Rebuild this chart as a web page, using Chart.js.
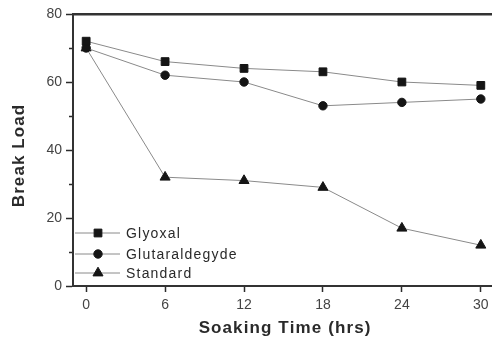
<!DOCTYPE html>
<html>
<head>
<meta charset="utf-8">
<script src="https://cdn.jsdelivr.net/npm/chart.js@4/dist/chart.umd.min.js"></script>
<style>
  html, body { margin: 0; padding: 0; background: #ffffff; }
</style>
</head>
<body>
<canvas id="c" width="492" height="341"></canvas>
<script>
// ---- data ----
const soakingHours = [0, 6, 12, 18, 24, 30];
const glyoxal = [72, 66, 64, 63, 60, 59];
const glutaraldegyde = [70, 62, 60, 53, 54, 55];
const standard = [70, 32, 31, 29, 17, 12];
const seriesNames = ['Glyoxal', 'Glutaraldegyde', 'Standard'];
const xTickValues = [0, 6, 12, 18, 24, 30];
const yTickValues = [0, 10, 20, 30, 40, 50, 60, 70, 80];
const yLabelStep = 20;
const xTitle = 'Soaking Time (hrs)';
const yTitle = 'Break Load';

const toPts = (arr) => arr.map((v, i) => ({ x: soakingHours[i], y: v }));

const axisColor = '#333333';
const tickCol = '#2b2b2b';
const lineColor = '#8a8a8a';
const markColor = '#151515';
const FONT = 'Arial, "Liberation Sans", Helvetica, sans-serif';

// draw text with manual letter spacing (canvas text, centered or left aligned)
function spacedText(ctx, str, x, y, spacing, align) {
  const chars = Array.from(str);
  const widths = chars.map(ch => ctx.measureText(ch).width);
  const total = widths.reduce((s, w) => s + w, 0) + spacing * (chars.length - 1);
  let cx = align === 'center' ? x - total / 2 : x;
  ctx.textAlign = 'left';
  chars.forEach((ch, i) => { ctx.fillText(ch, cx, y); cx += widths[i] + spacing; });
}

const decorPlugin = {
  id: 'decor',
  afterDraw(chart) {
    const ctx = chart.ctx;
    const a = chart.chartArea;
    // top frame line
    ctx.save();
    ctx.strokeStyle = axisColor;
    ctx.lineWidth = 2;
    ctx.beginPath(); ctx.moveTo(a.left, a.top + 0.5); ctx.lineTo(chart.width, a.top + 0.5); ctx.stroke();
    ctx.restore();

    // axis titles
    ctx.save();
    ctx.fillStyle = '#2a2a2a';
    ctx.font = 'bold 17px ' + FONT;
    ctx.textBaseline = 'middle';
    spacedText(ctx, xTitle, (a.left + a.right) / 2 + 2, 328, 1.1, 'center');
    ctx.translate(19, (a.top + a.bottom) / 2 + 6);
    ctx.rotate(-Math.PI / 2);
    spacedText(ctx, yTitle, 0, 0, 1.1, 'center');
    ctx.restore();

    // legend inside plot
    ctx.save();
    const rows = [a.bottom - 53, a.bottom - 32, a.bottom - 13];
    chart.data.datasets.forEach((ds, i) => {
      const y = rows[i];
      const x0 = a.left + 2, x1 = a.left + 47, xm = a.left + 25;
      ctx.strokeStyle = lineColor;
      ctx.lineWidth = 1;
      ctx.beginPath(); ctx.moveTo(x0, y); ctx.lineTo(x1, y); ctx.stroke();
      ctx.fillStyle = markColor;
      ctx.strokeStyle = markColor;
      Chart.helpers.drawPoint(ctx, {
        pointStyle: ds.pointStyle, radius: ds.pointRadius, borderWidth: 1, rotation: 0
      }, xm, y);
      ctx.fillStyle = '#2a2a2a';
      ctx.font = '14px ' + FONT;
      ctx.textBaseline = 'middle';
      spacedText(ctx, ds.label, a.left + 53, y + 1, 1.2, 'left');
    });
    ctx.restore();
  }
};

const mkDs = (label, data, style, r) => ({
  label, data: toPts(data),
  borderColor: lineColor, borderWidth: 1,
  pointStyle: style, pointRadius: r, pointHoverRadius: r,
  pointBackgroundColor: markColor, pointBorderColor: markColor, pointBorderWidth: 1,
  tension: 0, fill: false, clip: false
});

new Chart(document.getElementById('c'), {
  type: 'line',
  data: {
    datasets: [
      mkDs(seriesNames[0], glyoxal, 'rect', 5.5),
      mkDs(seriesNames[1], glutaraldegyde, 'circle', 4.2),
      mkDs(seriesNames[2], standard, 'triangle', 5.8)
    ]
  },
  options: {
    responsive: false,
    animation: false,
    devicePixelRatio: 1,
    layout: { autoPadding: false, padding: { top: 14, right: 0, left: 0, bottom: 0 } },
    plugins: { legend: { display: false }, tooltip: { enabled: false } },
    scales: {
      x: {
        type: 'linear', min: -1, max: 30.85,
        afterBuildTicks: (s) => { s.ticks = xTickValues.map(v => ({ value: v })); },
        afterFit: (s) => { s.height = 55; s.paddingLeft = 0; s.paddingRight = 0; },
        grid: { display: true, drawOnChartArea: false, drawTicks: true, tickLength: 6,
                tickColor: tickCol, tickWidth: 1.5, color: tickCol },
        border: { display: true, color: axisColor, width: 2 },
        ticks: { color: '#444', padding: 5, font: { size: 14, family: FONT }, maxRotation: 0 },
        title: { display: false }
      },
      xTop: {
        type: 'linear', position: 'top', min: -1, max: 30.85,
        afterBuildTicks: (s) => { s.ticks = []; },
        afterFit: (s) => { s.height = 0; s.paddingLeft = 0; s.paddingRight = 0; },
        grid: { display: true, drawOnChartArea: false, drawTicks: false, color: axisColor },
        border: { display: true, color: axisColor, width: 2 },
        ticks: { display: false }
      },
      y: {
        min: 0, max: 80,
        afterBuildTicks: (s) => { s.ticks = yTickValues.map(v => ({ value: v })); },
        afterFit: (s) => { s.width = 73; s.paddingTop = 0; s.paddingBottom = 0; },
        grid: { display: true, drawOnChartArea: false, drawTicks: true, tickLength: 7,
                tickColor: tickCol, tickWidth: 1.5, color: tickCol,
                tickBorderDash: (c) => (c.tick && c.tick.value % yLabelStep !== 0) ? [0, 3, 10, 0] : [] },
        border: { display: true, color: axisColor, width: 2 },
        ticks: { color: '#444', padding: 4, font: { size: 14, family: FONT },
                 callback: (v) => (v % yLabelStep === 0 ? v : '') },
        title: { display: false }
      }
    }
  },
  plugins: [decorPlugin]
});
</script>
</body>
</html>
